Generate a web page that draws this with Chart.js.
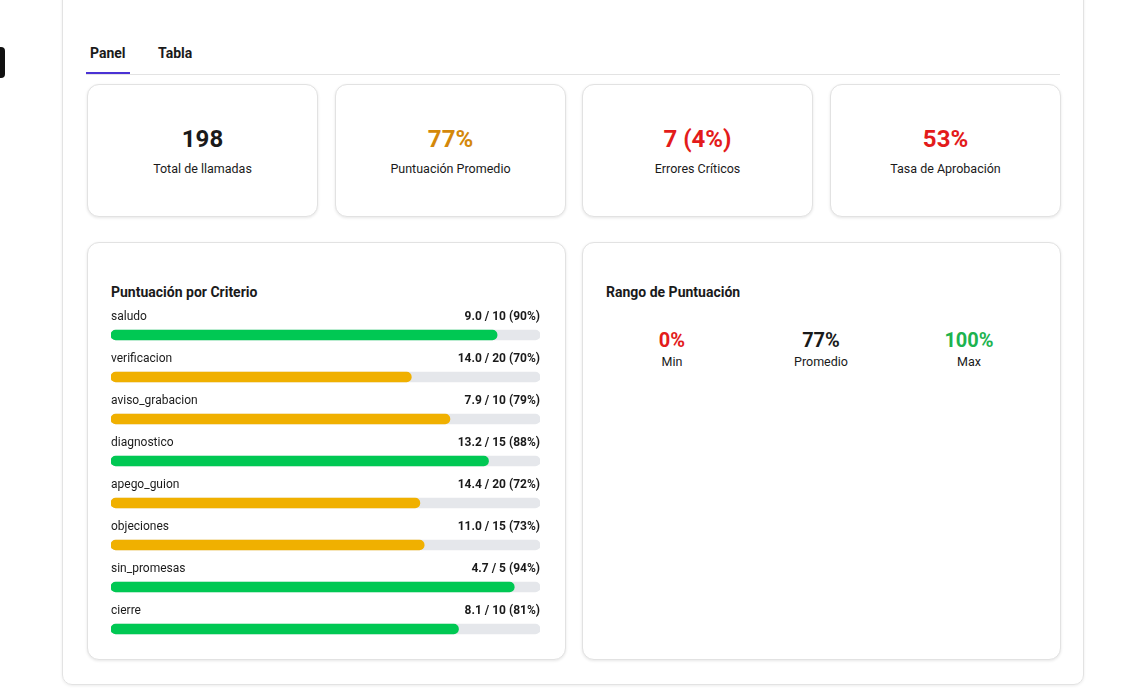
<!DOCTYPE html>
<html><head><meta charset="utf-8">
<script src="https://cdn.jsdelivr.net/npm/chart.js@4"></script>
<style>
body{margin:0;width:1126px;height:700px;background:#fff;font-family:Roboto,sans-serif;color:#1a1a1a;position:relative;overflow:hidden}
.abs{position:absolute}
.outer{left:62px;top:-20px;width:1020px;height:703px;border:1px solid #e3e3e3;border-radius:10px;box-shadow:0 1px 3px rgba(0,0,0,.08)}
.card{position:absolute;border:1px solid #e2e2e2;border-radius:12px;box-shadow:0 1px 3px rgba(0,0,0,.10);background:#fff}
.kpi .v{position:absolute;left:0;right:0;top:40px;text-align:center;font-weight:700;font-size:24px}
.kpi .l{position:absolute;left:0;right:0;top:76px;text-align:center;font-size:12.5px}
.rng{position:absolute;width:150px;text-align:center}
.rng .v{font-weight:700;font-size:20px}
.rng .l{font-size:12.5px;margin-top:2px}
</style></head><body>
<div class="abs" style="left:-6px;top:47px;width:11px;height:31px;background:#111;border-radius:4px"></div>
<div class="abs outer"></div>
<div class="abs" style="left:90px;top:45px;font-weight:700;font-size:14px">Panel</div>
<div class="abs" style="left:158px;top:45px;font-weight:700;font-size:14px">Tabla</div>
<div class="abs" style="left:86px;top:74px;width:974px;height:1px;background:#e3e3e3"></div>
<div class="abs" style="left:86px;top:72px;width:44px;height:2px;background:#4a32d4"></div>

<div class="card kpi" style="left:87px;top:84px;width:229px;height:131px"><div class="v">198</div><div class="l">Total de llamadas</div></div>
<div class="card kpi" style="left:335px;top:84px;width:229px;height:131px"><div class="v" style="color:#d4880a">77%</div><div class="l">Puntuación Promedio</div></div>
<div class="card kpi" style="left:582px;top:84px;width:229px;height:131px"><div class="v" style="color:#e31b1b">7 (4%)</div><div class="l">Errores Críticos</div></div>
<div class="card kpi" style="left:830px;top:84px;width:229px;height:131px"><div class="v" style="color:#e31b1b">53%</div><div class="l">Tasa de Aprobación</div></div>

<div class="card" style="left:87px;top:242px;width:477px;height:416px"></div>
<div class="card" style="left:582px;top:242px;width:477px;height:416px"></div>
<div class="abs" style="left:111px;top:284px;font-weight:700;font-size:14px">Puntuación por Criterio</div>
<div class="abs" style="left:606px;top:284px;font-weight:700;font-size:14px">Rango de Puntuación</div>
<div class="rng" style="left:597px;top:328px"><div class="v" style="color:#e31b1b">0%</div><div class="l">Min</div></div>
<div class="rng" style="left:746px;top:328px"><div class="v">77%</div><div class="l">Promedio</div></div>
<div class="rng" style="left:894px;top:328px"><div class="v" style="color:#1db34f">100%</div><div class="l">Max</div></div>

<div class="abs" style="left:104px;top:300px;width:443px;height:350px"><canvas id="c"></canvas></div>
<script>
const categories=["saludo","verificacion","aviso_grabacion","diagnostico","apego_guion","objeciones","sin_promesas","cierre"];
const scores=[9.0,14.0,7.9,13.2,14.4,11.0,4.7,8.1];
const maxScores=[10,20,10,15,20,15,5,10];
const percents=[90,70,79,88,72,73,94,81];
const track=categories.map(()=>100);
const colors=percents.map(p=>p>=80?'#00c853':'#f0b000');
const labelsPlugin={id:'lbl',afterDraw(ch){
  const ctx=ch.ctx,y=ch.scales.y,a=ch.chartArea;ctx.save();
  categories.forEach((c,i)=>{
    const top=y.getPixelForValue(i)-21;
    ctx.textBaseline='middle';ctx.fillStyle='#1a1a1a';
    ctx.font='12px Roboto';ctx.textAlign='left';ctx.fillText(c,a.left,top+3);
    ctx.font='bold 12px Roboto';ctx.textAlign='right';
    ctx.fillText(scores[i].toFixed(1)+' / '+maxScores[i]+' ('+percents[i]+'%)',a.right,top+3);
  });ctx.restore();}};
new Chart(document.getElementById('c'),{type:'bar',
 data:{labels:categories,datasets:[
  {data:percents,backgroundColor:colors,barThickness:10,borderRadius:5,borderSkipped:false,grouped:false,order:0},
  {data:track,backgroundColor:'#e5e7eb',barThickness:10,borderRadius:5,borderSkipped:false,grouped:false,order:1}]},
 options:{indexAxis:'y',responsive:true,maintainAspectRatio:false,animation:false,
  layout:{padding:{top:14,left:7,right:7,bottom:0}},
  plugins:{legend:{display:false},tooltip:{enabled:false}},
  scales:{x:{display:false,min:0,max:100},y:{display:false}}},
 plugins:[labelsPlugin]});
</script>
</body></html>
